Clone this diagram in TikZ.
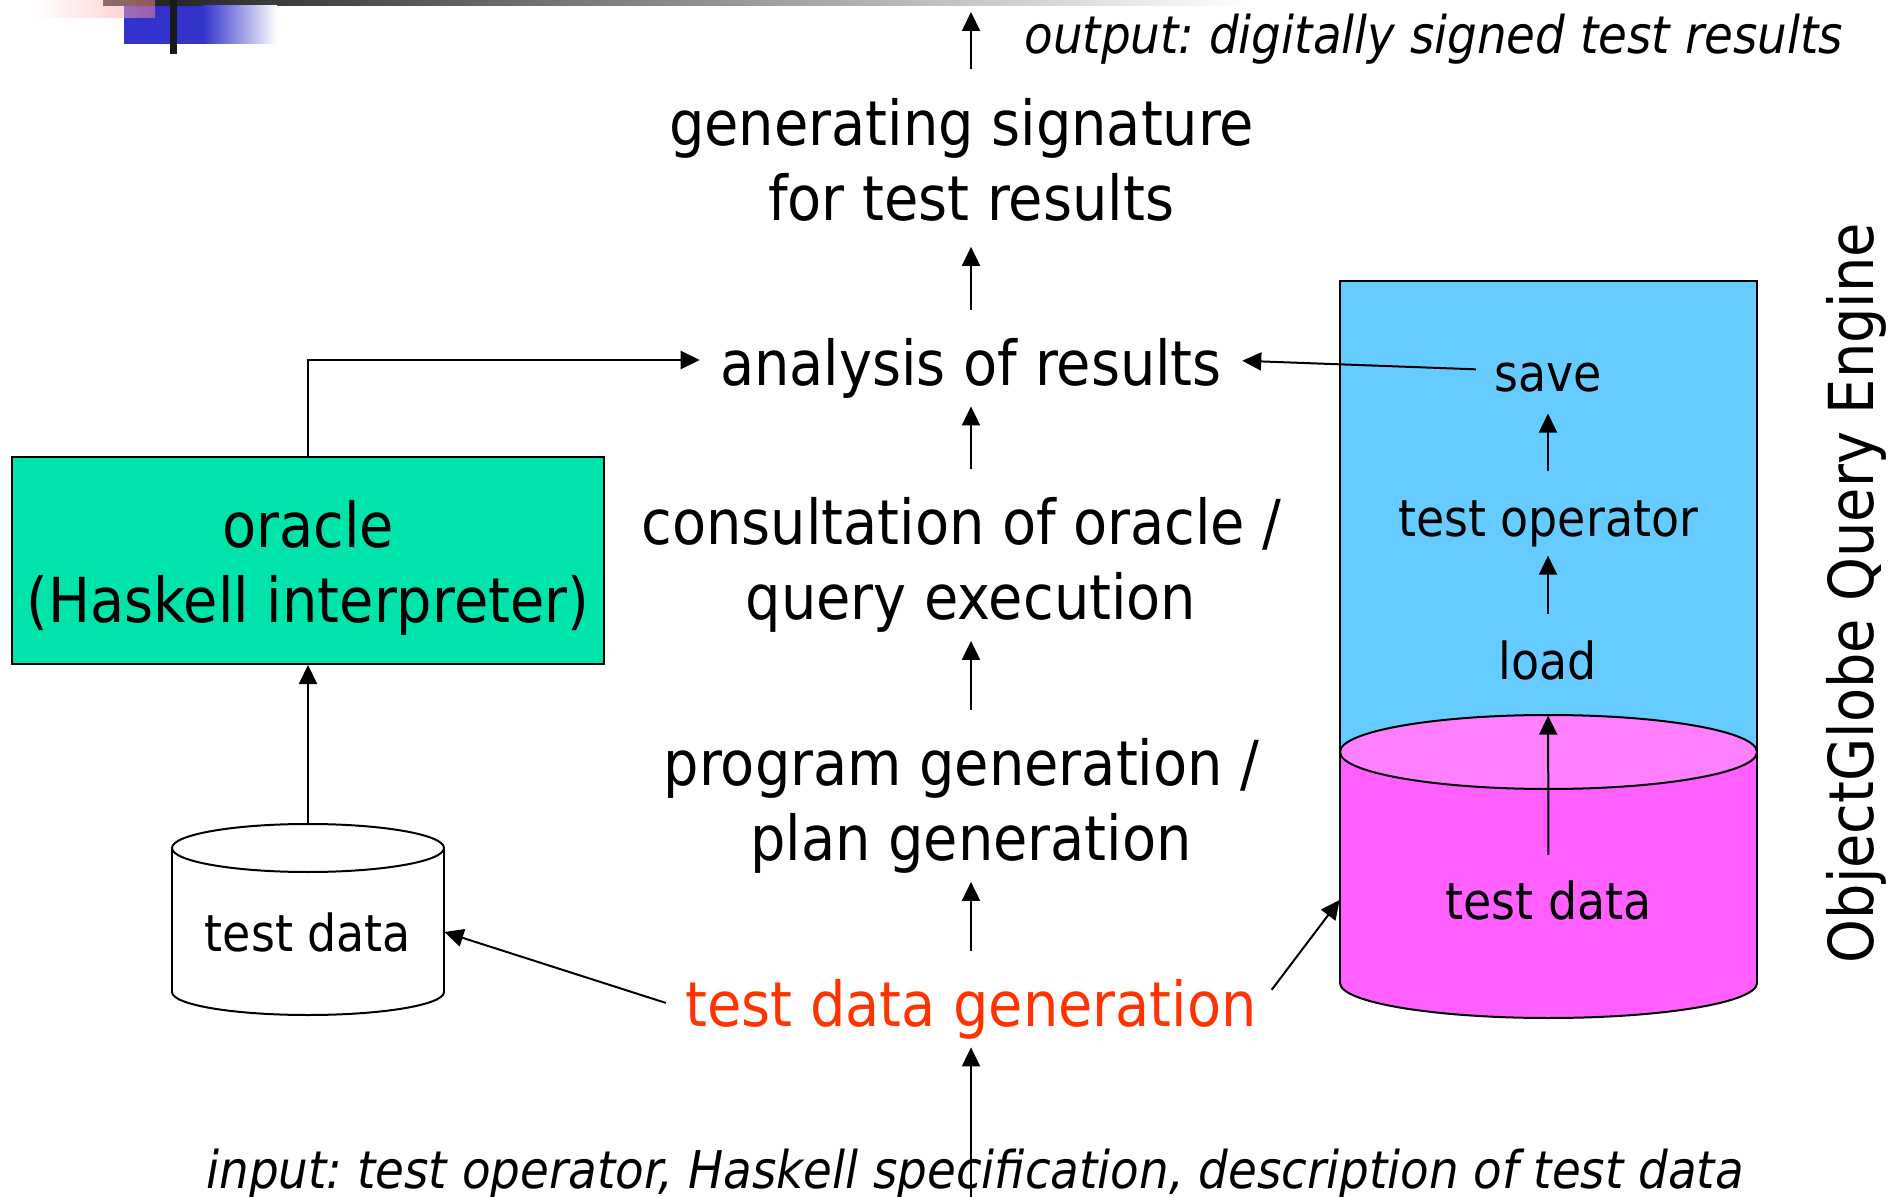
\documentclass[tikz,border=0pt]{standalone}
\usepackage{fontspec}
\setmainfont{DejaVuSansCondensed.ttf}[ItalicFont=DejaVuSansCondensed-Oblique.ttf]
\usetikzlibrary{arrows.meta}
\frenchspacing

\definecolor{oraclegreen}{HTML}{00E3AA}
\definecolor{engineblue}{HTML}{66CCFF}
\definecolor{pinkbody}{HTML}{FF5FFF}
\definecolor{pinktop}{HTML}{FF80FF}
\definecolor{gendred}{HTML}{FF3300}
\definecolor{logoblue}{HTML}{3333CC}

\tikzset{
  arr/.style={line width=1pt, -{Triangle[length=9.5pt,width=9pt]}},
  flow/.style={arr, shorten <=14pt, shorten >=4pt},
  big/.style={inner sep=0pt, font=\fontsize{31}{37.5}\selectfont, align=center},
  small/.style={inner sep=0pt, font=\fontsize{25.5}{31}\selectfont},
  io/.style={inner sep=0pt, font=\fontsize{26}{31}\selectfont\itshape},
}

\begin{document}
\begin{tikzpicture}[x=0.5pt, y=-0.5pt]
		\useasboundingbox (0,0) rectangle (1901,1197);
		
		%%%%% slide corner %%%%%
		\shade[left color=black!90, right color=white] (103,0) rectangle (1250,6);
		\fill[logoblue] (124,6) rectangle (203,44);
		\shade[left color=logoblue, right color=white] (203,6) rectangle (277,44);
		\shade[left color=white, right color={rgb,255:red,255;green,140;blue,140}, opacity=0.5] (35,0) rectangle (155,18);
		\fill[black!90] (170,0) rectangle (177,54);
		
		%%%%% ObjectGlobe side %%%%%
		\draw[line width=1pt, fill=engineblue] (1340,281) rectangle (1757,752);
		\draw[line width=1pt, fill=pinkbody] (1548.5,983) ellipse [x radius=208.5, y radius=35];
		\fill[pinkbody] (1340,752) rectangle (1757,983);
		\draw[line width=1pt] (1340,752) -- (1340,983) (1757,752) -- (1757,983);
		\draw[line width=1pt, fill=pinktop] (1548.5,752) ellipse [x radius=208.5, y radius=37];
		
		\node[small] (save) at (1548,377.5) {save};
		\node[small] (testop) at (1548,524) {test operator};
		\node[small] (load) at (1548,660.5) {load};
		\node[small, minimum width=208.5pt] (rtd) at (1548.5,900) {test data};
		\node[big, rotate=90] (engine) at (1856,593) {ObjectGlobe Query Engine};
		
		%%%%% oracle side %%%%%
		\draw[line width=1pt, fill=white] (308,992) ellipse [x radius=136, y radius=23];
		\fill[white] (172,848) rectangle (444,992);
		\draw[line width=1pt] (172,848) -- (172,992) (444,848) -- (444,992);
		\draw[line width=1pt, fill=white] (308,848) ellipse [x radius=136, y radius=24];
		\coordinate (ltdtop) at (308,824);
		\node[small, minimum width=136pt] (ltd) at (308,932) {test data};
		
		\node[big, draw, line width=1pt, fill=oraclegreen, minimum width=296pt, minimum height=103.5pt] (oracle) at (308,560.5) {\rule{0pt}{30.5pt}oracle\\(Haskell interpreter)};
		
		%%%%% middle column %%%%%
		\node[big] (gensig) at (971,160) {generating signature\hspace*{.3em}\\for test results};
		\node[big] (analysis) at (971,368) {analysis of results};
		\node[big] (consult) at (971,565) {consultation of oracle /\hspace*{.3em}\\query execution};
		\node[big] (program) at (971,806) {program generation /\hspace*{.3em}\\plan generation};
		\node[big, text=gendred] (tdgen) at (971,1009) {test data generation};
		\coordinate (out) at (971,12);
		\coordinate (in) at (971,1197);
		\node[io, anchor=base west] (output) at (1024,54) {output: digitally signed test results};
		\node[io, anchor=base] (input) at (975,1188) {input: test operator, Haskell specification, description of test data};
		
		%%%%% arrows %%%%%
		\draw[arr, shorten <=14.5pt] (gensig) -- (out);
		\draw[flow, shorten >=12.5pt] (analysis) -- (gensig);
		\draw[flow] (consult) -- (analysis);
		\draw[flow] (program) -- (consult);
		\draw[flow] (tdgen) -- (program);
		\draw[arr, shorten >=4pt] (in) -- (tdgen);
		
		\draw[arr, shorten >=10pt] (oracle.north) |- ([yshift=4pt]analysis.west);
		\draw[arr, shorten <=9pt, shorten >=10pt] ([yshift=3.75pt]save.west) -- ([yshift=4pt]analysis.east);
		\draw[arr] (ltdtop) -- (oracle.south);
		
		\draw[arr, shorten <=14.5pt, shorten >=10.5pt] (testop) -- (save);
		\draw[arr, shorten <=13pt, shorten >=4pt] (load) -- (testop);
		\draw[arr, shorten <=12.5pt, shorten >=17.5pt] (rtd) -- (load);
		
		\draw[arr, shorten <=10pt] (tdgen.west) -- (ltd.east);
		\draw[arr, shorten <=12pt] (tdgen.east) -- (rtd.west);
		
		%%%%% END %%%%%
\end{tikzpicture}
\end{document}
